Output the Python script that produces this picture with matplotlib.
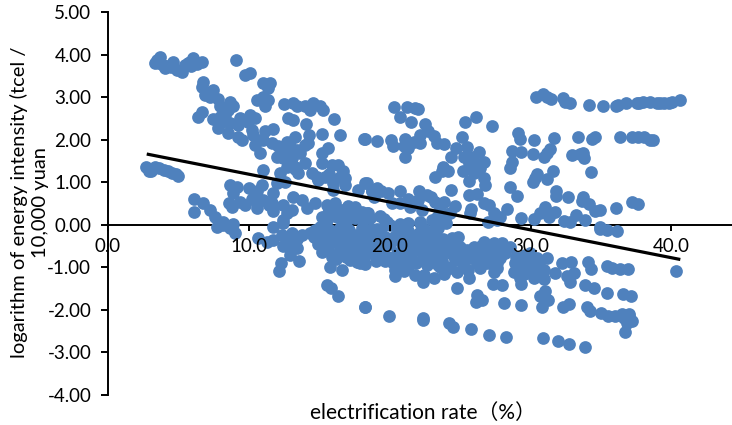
import matplotlib
matplotlib.use('Agg')
import matplotlib.pyplot as plt

plt.rcParams['font.family'] = ['Lato', 'Noto Sans CJK SC', 'DejaVu Sans']

# top left band
band_top_x = [3.34, 3.46, 3.69, 3.6, 4.05, 3.9, 4.29, 4.64, 4.5, 4.88, 5.23, 5.47, 5.71, 5.9, 6.06, 5.85, 6.30, 6.65]
band_top_y = [3.81, 3.86, 3.94, 3.8, 3.68, 3.76, 3.72, 3.82, 3.7, 3.64, 3.58, 3.76, 3.80, 3.72, 3.91, 3.82, 3.78, 3.82]

# low left band
band_low_x = [2.7, 2.9, 3.05, 3.35, 3.65, 3.95, 4.25, 4.55, 4.8, 4.95]
band_low_y = [1.36, 1.27, 1.25, 1.36, 1.33, 1.29, 1.25, 1.22, 1.18, 1.15]

# descending group above the trend, x 6-12
upper_left_x = [6.77, 6.65, 6.89, 7.48, 7.24, 7.84, 7.95, 8.66, 8.90, 8.55, 8.31, 7.95, 7.48, 7.84, 8.55, 8.07, 8.66,
                9.38, 9.26, 10.09, 9.97, 10.44, 10.2, 11.15, 11.74, 10.56, 11.03, 11.39, 11.15, 11.03, 11.51, 11.39,
                9.73, 10.09, 9.07, 6.42, 6.65, 9.26, 9.49, 10.44, 10.8, 11.03, 11.62, 10.3, 10.6]
upper_left_y = [3.36, 3.23, 3.05, 3.17, 3.01, 2.95, 2.78, 2.89, 2.79, 2.70, 2.58, 2.54, 2.48, 2.27, 2.15, 2.42, 2.38,
                2.50, 2.35, 2.58, 2.42, 2.50, 2.23, 2.19, 2.25, 2.93, 3.01, 2.93, 2.78, 3.33, 3.34, 3.21,
                3.53, 3.56, 3.87, 2.52, 2.64, 2.07, 1.98, 1.87, 1.69, 1.99, 1.91, 2.1, 2.0]

# group x 12-18 above the trend
upper_mid_x = [12.5, 13.16, 13.4, 13.99, 14.58, 14.35, 15.06, 15.29, 12.81, 13.16, 14.04, 14.28, 14.23, 15.22, 16.05,
               16.48, 18.2, 13.28, 12.69, 12.1, 12.45, 12.93, 13.4, 11.98, 12.45, 13.04, 13.64, 13.99, 15.18, 15.65,
               13.99, 13.28, 12.69, 12.22, 11.03, 13.52, 14.46, 15.18, 15.89, 16.36, 16.71, 16.83, 16.48, 15.41,
               14.82, 16.0, 16.83, 16.0, 12.57, 11.98, 12.9, 13.3, 14.9, 15.7]
upper_mid_y = [2.84, 2.85, 2.78, 2.78, 2.85, 2.70, 2.78, 2.70, 2.50, 2.46, 2.36, 2.11, 1.91, 2.13, 2.49,
               2.11, 2.01, 2.07, 1.95, 1.84, 1.76, 1.84, 1.76, 1.60, 1.56, 1.56, 1.68, 1.87, 1.68, 1.80,
               1.44, 1.36, 1.36, 1.21, 1.29, 1.21, 1.21, 1.44, 1.40, 1.40, 1.25, 1.09, 1.13, 1.13,
               1.13, 0.97, 0.93, 0.82, 1.01, 0.97, 1.65, 1.3, 1.05, 1.2]

# band just above zero, x 6-19
above_zero_x = [6.13, 6.77, 6.13, 7.24, 7.6, 8.19, 8.9, 8.66, 9.14, 8.9, 8.59, 8.83, 9.38, 9.73, 10.01, 10.56, 10.91,
                10.56, 11.03, 11.74, 11.62, 11.74, 12.45, 13.04, 12.69, 13.16, 13.75, 14.11, 14.7, 15.53, 16.12,
                17.07, 17.54, 17.78, 18.25, 18.73, 15.18, 15.65, 16.48, 17.19, 18.13, 18.49, 12.45, 10.2, 11.4]
above_zero_y = [0.6, 0.5, 0.29, 0.35, 0.19, 0.07, 0.02, 0.93, 0.89, 0.74, 0.5, 0.42, 0.54, 0.46, 0.85, 0.78, 0.93,
                0.38, 0.58, 0.74, 0.5, 0.31, 0.46, 0.35, 0.27, 0.66, 0.58, 0.38, 0.5, 0.46, 0.5,
                0.44, 0.41, 0.82, 0.97, 0.78, 0.19, 0.27, 0.19, 0.19, 0.19, 0.27, 0.11, 0.6, 0.45]

# just below zero, x 7-17
below_left_x = [7.72, 8.19, 8.66, 9.02, 11.74, 12.45, 10.68, 11.27, 11.74, 12.33, 12.69, 13.04, 13.4, 12.93, 13.59,
                12.26, 12.17, 13.75, 14.35, 14.7, 15.06, 15.18, 16.12, 15.77, 16.64, 15.58, 15.84, 16.36, 18.25,
                13.2, 12.9, 12.4, 13.4, 14.9, 15.3]
below_left_y = [-0.05, -0.01, -0.09, -0.2, -0.05, 0.03, -0.32, -0.4, -0.36, -0.24, -0.44, -0.2, -0.56, -0.71, -0.85,
                -0.91, -1.08, -0.24, -0.2, -0.13, -0.32, -0.64, -0.71, -0.99, -1.06, -1.42, -1.5, -1.69, -1.94,
                -0.35, -0.55, -0.5, -0.35, -0.45, -0.5]

# top right band
band_three_x = [30.38, 30.85, 31.16, 31.46, 32.27, 32.46, 32.81, 34.12, 35.11, 36.06, 36.18, 36.8, 37.55, 37.95, 38.45,
                38.97, 39.44, 40.03, 40.63, 37.7, 39.2, 39.8]
band_three_y = [2.99, 3.07, 3.01, 2.96, 2.97, 2.89, 2.85, 2.81, 2.79, 2.78, 2.82, 2.86, 2.85, 2.89, 2.88,
                2.87, 2.87, 2.89, 2.93, 2.87, 2.86, 2.86]

# right hand points between the trend and y=3
upper_right_x = [36.36, 37.2, 37.6, 38.02, 38.45, 38.68, 33.34, 34.35, 34.59, 31.65, 30.26, 29.1, 29.26, 32.93, 33.52,
                 33.71, 33.81, 34.28, 30.16, 30.92, 31.16, 31.39, 28.67, 29.29, 28.67, 28.55, 31.58, 30.44, 30.16,
                 31.16, 30.33, 28.55, 29.05, 31.82, 31.77, 32.67, 33.71, 33.64, 34.12, 34.59, 34.9, 36.06, 37.2,
                 37.62, 28.32, 29.29, 30.21, 31.04, 30.68, 31.28, 31.7, 32.39, 33.24, 33.88, 32.81]
upper_right_y = [2.05, 2.05, 2.06, 2.05, 1.98, 1.99, 2.06, 2.01, 2.07, 2.03, 1.98, 2.16, 2.01, 1.64, 1.66,
                 1.68, 1.56, 1.24, 1.66, 1.6, 1.68, 1.77, 1.73, 1.7, 1.48, 1.34, 1.26, 1.18, 1.01,
                 1.07, 1.09, 0.89, 0.68, 0.78, 0.67, 0.66, 0.66, 0.56, 0.49, 0.31, 0.35, 0.4, 0.53,
                 0.49, 0.36, 0.15, 0.13, 0.41, 0.27, 0.19, 0.29, 0.09, 0.23, 0.11, 0.07]

# middle points above the axis, x 18-28
upper_centre_x = [20.31, 21.21, 21.81, 22.04, 20.74, 21.5, 22.5, 25.38, 26.14, 27.27, 18.23, 19.08, 20.06, 20.2, 21.09,
                  20.98, 21.33, 21.09, 22.16, 22.75, 23.15, 22.16, 21.69, 23.39, 23.86, 25.12, 24.69, 25.52, 24.34,
                  25.28, 26.35, 23.77, 24.17, 23.7, 23.23, 25.19, 26.07, 26.7, 26.42, 25.95, 25.64, 26.7, 26.8, 24.38,
                  18.37, 19.08, 18.73, 19.91, 20.74, 22.11, 22.63, 19.4, 20.15, 20.74, 21.45, 21.33, 22.04, 23.23,
                  23.82, 24.6, 22.28, 23.58, 24.29, 25.66, 26.23, 26.66, 27.08, 25.78, 25.71, 27.37, 27.84, 27.01,
                  18.37, 18.61, 19.6, 20.74, 21.33, 22.16, 23.35, 23.82, 22.99, 17.9, 34.94, 18.9, 21.7, 22.9, 26.0,
                  25.9, 25.6, 27.6]
upper_centre_y = [2.76, 2.76, 2.74, 2.73, 2.52, 2.42, 2.36, 2.42, 2.54, 2.33, 2.01, 1.96, 1.99, 1.84, 2.01,
                  1.84, 1.8, 1.6, 2.11, 2.19, 2.09, 1.91, 1.95, 1.93, 1.9, 2.06, 1.8, 1.82, 1.58,
                  1.6, 1.7, 1.36, 1.26, 1.25, 1.11, 1.27, 1.44, 1.48, 1.33, 1.21, 1.03, 1.09, 0.93, 0.82,
                  0.99, 0.85, 0.78, 0.74, 0.78, 0.8, 0.7, 0.78, 0.5, 0.5, 0.42, 0.6, 0.58, 0.54,
                  0.54, 0.44, 0.35, 0.38, 0.27, 0.7, 0.71, 0.5, 0.45, 0.37, 0.27, 0.27, 0.19, 0.05,
                  0.27, 0.15, 0.13, 0.02, 0.03, 0.07, 0.19, 0.15, 0.11, 0.19, -0.05, 0.65, 0.5, 0.65, 1.35,
                  1.6, 1.45, 0.1]

# dense block under the axis, x 15-24
dense_left_x = [15.53, 16.24, 16.95, 17.5, 15.06, 15.77, 16.48, 17.14, 18.01, 15.41, 16.12, 16.83, 17.54, 18.25, 15.65,
                16.48, 17.19, 17.9, 17.19, 17.66, 18.25, 18.13, 18.49, 18.96, 18.02, 18.37, 19.08, 19.68, 17.9, 18.61,
                19.44, 20.62, 21.33, 20.86, 21.69, 22.05, 22.28, 21.0, 21.57, 22.28, 20.5, 20.86, 20.03, 22.16, 23.34,
                23.58, 23.0, 23.22, 23.7, 22.75, 23.34, 22.87, 23.46, 24.0, 17.9, 19.32, 20.34, 21.81, 22.39, 22.4,
                23.11, 23.82, 20.74, 21.57, 22.63, 23.58, 23.22, 16.0, 16.8, 17.5, 18.7, 19.4, 20.0, 15.9, 19.9, 23.9]
dense_left_y = [0.11, 0.19, 0.11, 0.15, -0.05, -0.13, -0.09, -0.13, -0.09, -0.36, -0.4, -0.36, -0.4, -0.36, -0.56,
                -0.6, -0.6, -0.6, -0.83, -0.87, -0.93, 0.11, -0.13, -0.28, -0.2, -0.44, -0.52, -0.28, -0.91, -0.67,
                -0.71, -0.13, -0.16, -0.28, -0.32, -0.2, -0.44, -0.52, -0.63, -0.67, -0.67, -0.75, -0.01, 0.03, -0.28,
                -0.44, -0.4, -0.6, -0.67, -0.71, -0.79, -0.2, -0.09, 0.03, -0.85, -0.79, -1.07, -1.18, -1.34, -1.18,
                -1.26, -1.16, -0.83, -0.83, -0.95, -0.99, -0.83, -0.25, -0.2, -0.7, -0.55, -0.1, -0.45, -0.75, -0.75, -0.5]

# extra overlapping points inside the solid part of the block
dense_fill_x = [14.6, 15.3, 15.9, 16.6, 17.3, 18.0, 18.7, 19.3, 15.6, 16.3, 17.0, 17.7, 18.4, 19.1, 19.8, 16.7, 17.4,
                18.1, 18.8, 19.5, 16.2, 16.9, 17.6, 18.3, 19.0, 19.7, 20.3, 20.9, 21.4, 22.0, 22.6, 23.2, 23.8, 20.2,
                20.8, 21.3, 21.9, 22.5, 23.1, 23.7, 24.2, 20.4, 21.0, 22.7, 23.4, 24.0, 24.4, 22.4, 23.0, 23.6]
dense_fill_y = [-0.3, 0.05, 0.3, 0.35, 0.3, 0.3, -0.1, 0.2, -0.25, -0.3, -0.2, -0.25, -0.2, -0.1, 0.05, -0.5, -0.5,
                -0.45, -0.4, -0.55, -0.8, -0.75, -0.75, -0.7, -0.85, -0.85, -0.3, -0.45, -0.4, -0.55, -0.3, -0.1,
                -0.35, -0.9, -0.95, -1.0, -0.9, -0.85, -0.45, -0.85, -0.5, -1.2, -1.1, -0.6, -0.95, -1.0, -0.7, -0.1,
                -0.55, 0.05]

# dense block under the axis, x 24-34
dense_right_x = [24.29, 24.76, 25.64, 25.59, 26.42, 27.37, 27.6, 28.79, 29.5, 30.21, 30.96, 29.26, 29.85, 30.56, 30.92,
                 31.16, 28.91, 29.73, 30.44, 29.97, 29.6, 26.7, 27.37, 27.96, 28.55, 25.95, 25.47, 26.19, 26.9, 27.61,
                 28.2, 25.71, 26.42, 27.13, 27.84, 26.19, 26.9, 27.6, 24.88, 24.41, 24.65, 25.0, 24.65, 25.0, 29.2,
                 30.0, 30.7, 29.0, 30.3, 32.22, 32.88, 31.75, 33.05, 32.58, 32.81, 25.2, 26.5, 27.3, 28.0, 25.9, 26.6,
                 27.4, 30.1, 30.6, 29.4]
dense_right_y = [-1.03, -1.11, -1.26, -1.07, -1.03, -1.11, -1.03, -1.11, -1.15, -1.26, -1.29, -1.26, -1.03, -0.99, -1.07,
                 -0.79, -0.91, -0.87, -0.79, -0.67, -0.72, -0.4, -0.44, -0.44, -0.53, -0.52, -0.6, -0.6, -0.6, -0.6,
                 -0.67, -0.79, -0.79, -0.79, -0.79, -0.91, -0.91, -0.91, -0.28, -0.32, -0.52, -0.71, -0.83, -0.52, -1.0,
                 -1.13, -1.15, -0.75, -0.9, -0.91, -0.87, -1.13, -1.13, -1.22, -1.36, -0.9, -0.5, -0.7, -0.55, -0.7, -0.7,
                 -0.5, -1.0, -0.9, -0.8]

# lower right
lower_right_x = [40.34, 34.07, 34.3, 35.42, 35.77, 36.37, 36.91, 34.94, 35.42, 36.13, 33.88, 34.52, 35.44, 36.53, 37.15,
                 34.0, 34.24, 35.0, 35.47, 36.01, 36.72, 36.96, 37.19, 36.84, 36.67, 32.7, 32.3, 30.8, 31.04, 31.27,
                 30.68, 31.0, 29.33, 28.1, 26.54, 26.11, 26.18, 24.76, 27.32, 27.96, 29.33, 36.5, 37.0, 36.6]
lower_right_y = [-1.09, -0.89, -1.04, -0.97, -1.01, -1.05, -1.04, -0.1, -0.13, -0.14, -1.43, -1.5, -1.6, -1.63, -1.67,
                 -1.93, -2.03, -2.07, -2.16, -2.16, -2.16, -2.15, -2.26, -2.31, -2.53, -1.87, -1.93, -1.93, -1.76, -1.77,
                 -1.69, -1.55, -1.9, -1.84, -1.77, -1.81, -1.65, -1.48, -1.4, -1.41, -1.4, -2.1, -2.1, -2.2]

# bottom descending band
band_bottom_x = [18.25, 19.96, 22.33, 22.33, 24.22, 24.48, 25.77, 27.06, 28.22, 30.9, 31.92, 32.74, 33.83]
band_bottom_y = [-1.94, -2.14, -2.2, -2.25, -2.32, -2.4, -2.45, -2.59, -2.64, -2.67, -2.74, -2.81, -2.87]

trend_x = [2.75, 40.63]
trend_y = [1.66, -0.82]

x_ticks = [0, 10, 20, 30, 40]
y_ticks = [5, 4, 3, 2, 1, 0, -1, -2, -3, -4]

groups = [(band_top_x, band_top_y), (band_low_x, band_low_y), (upper_left_x, upper_left_y),
          (upper_mid_x, upper_mid_y), (above_zero_x, above_zero_y), (below_left_x, below_left_y),
          (band_three_x, band_three_y), (upper_right_x, upper_right_y), (upper_centre_x, upper_centre_y),
          (dense_left_x, dense_left_y), (dense_fill_x, dense_fill_y), (dense_right_x, dense_right_y),
          (lower_right_x, lower_right_y), (band_bottom_x, band_bottom_y)]

fig = plt.figure(figsize=(7.32, 4.25), dpi=100)
ax = fig.add_axes([108 / 732, (425 - 394.7) / 425, 624 / 732, (394.7 - 12) / 425])

for gx, gy in groups:
    ax.scatter(gx, gy, s=84, color='#4F81BD', linewidths=0, zorder=3, clip_on=False)
ax.plot(trend_x, trend_y, color='black', lw=2.3, zorder=4, solid_capstyle='butt')

ax.set_xlim(0, 44.3)
ax.set_ylim(-4, 5)
ax.spines['top'].set_visible(False)
ax.spines['right'].set_visible(False)
ax.spines['bottom'].set_position(('data', 0))
ax.spines['bottom'].set_linewidth(1.4)
ax.spines['left'].set_linewidth(1.4)

ax.set_xticks(x_ticks)
ax.set_xticklabels(['%.1f' % v for v in x_ticks])
ax.set_yticks(y_ticks)
ax.set_yticklabels(['%.2f' % v for v in y_ticks])
ax.tick_params(axis='x', length=4, width=1.4, labelsize=13.5, pad=6)
ax.tick_params(axis='y', length=5, width=1.4, labelsize=13.5, pad=7)
ax.xaxis.set_zorder(5)

fig.text(29.5 / 732, 1 - 202 / 425, 'logarithm of energy intensity (tcel /\n10,000 yuan', rotation=90,
         ha='center', va='center', ma='center', fontsize=14.5, linespacing=1.3)
fig.text(423 / 732, 1 - 413 / 425, 'electrification rate（%）', ha='center', va='center', fontsize=15)

fig.savefig('out.png', dpi=100)
